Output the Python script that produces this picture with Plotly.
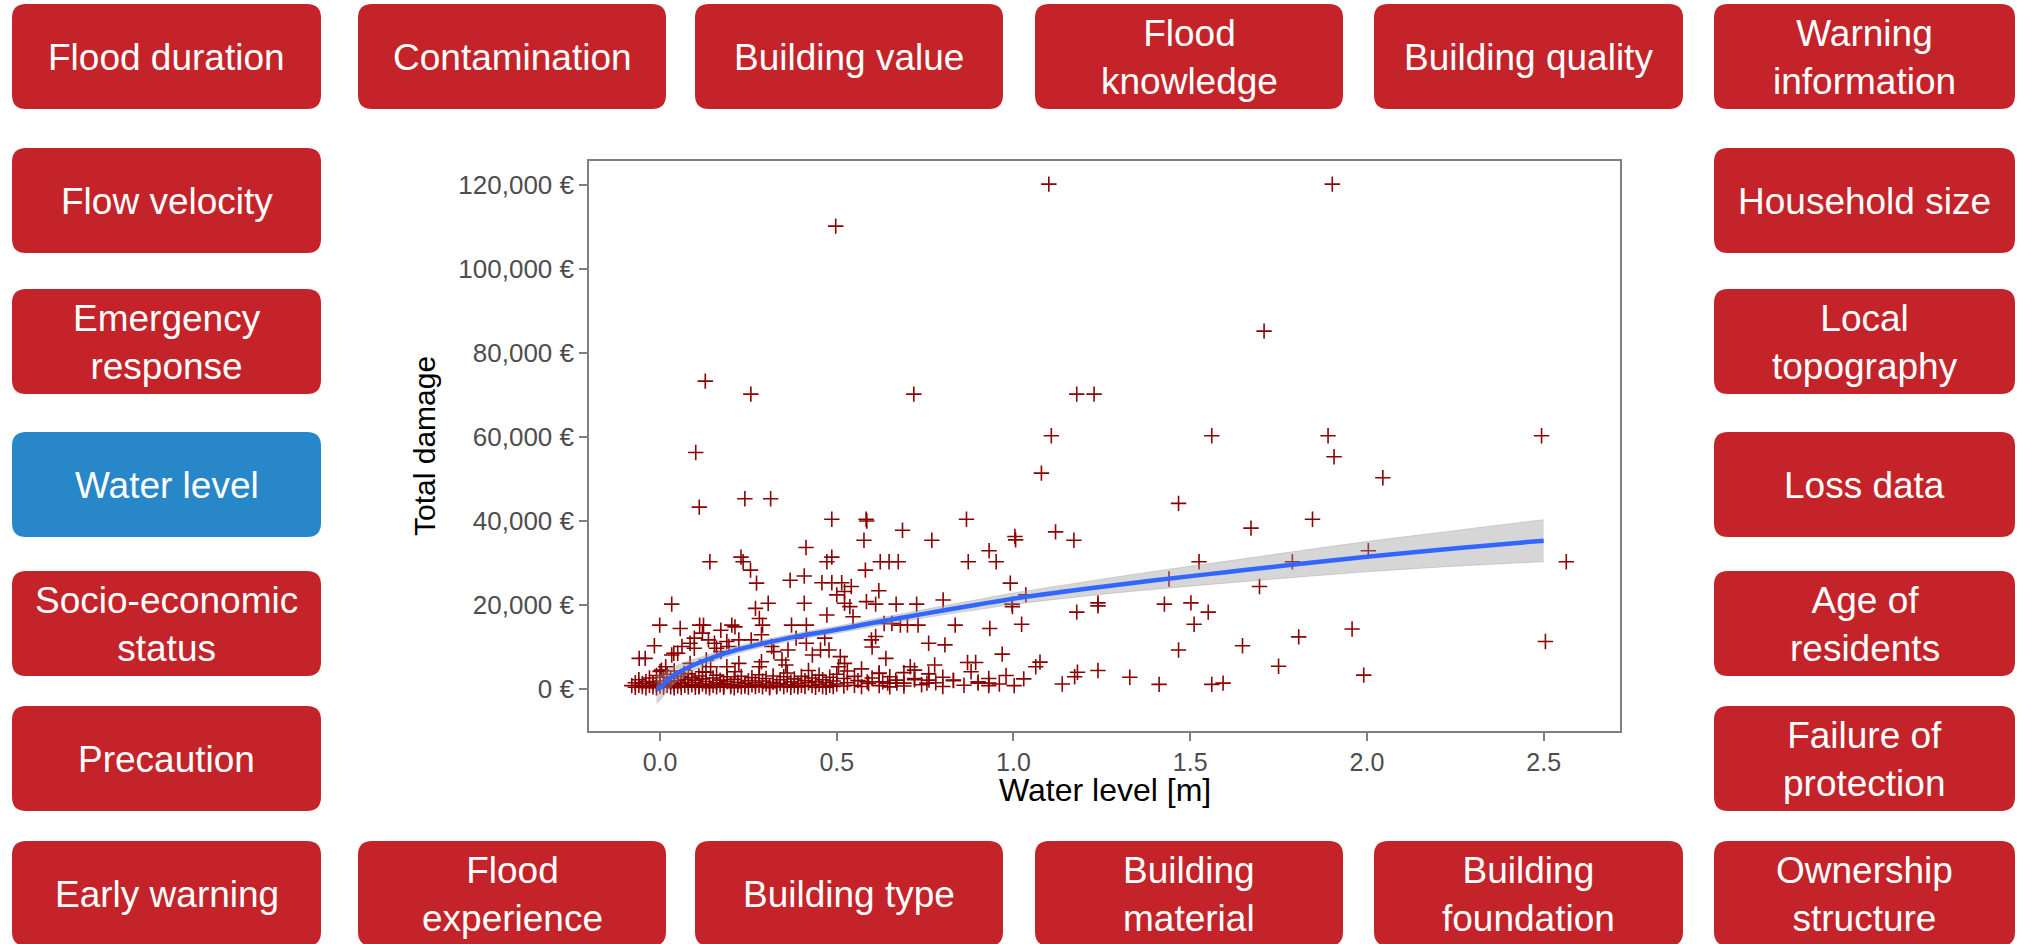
import plotly.graph_objects as go

# ---------------- data ----------------
# scattered observations: water level [m] and total damage [EUR]
water_level = [
    1.100, 1.902, 0.497, 1.709,
    0.128, 0.257, 0.718, 1.179, 1.228,
    0.101, 1.107, 1.561, 1.890, 2.494,
    1.907, 1.079, 2.045, 0.111, 0.240, 0.313,
    1.467, 0.486, 0.583, 0.585, 0.867, 1.846,
    0.686, 1.672, 1.119, 1.004, 1.006,
    0.577, 0.769, 1.171, 0.413, 0.931, 2.004,
    0.141, 0.229, 0.235, 0.472, 0.486, 0.623, 0.648, 0.674, 0.872, 0.951, 1.525, 1.789, 2.564,
    0.256, 0.581, 0.273, 0.368, 0.408, 0.458, 0.486, 0.514, 0.541, 0.500, 0.522, 0.619, 0.991, 1.035, 1.440, 1.696,
    0.584, 0.522, 0.610, 0.668, 0.726, 0.801, 0.997, 0.306, 0.270, 0.408, 0.033, 0.996, 1.239, 1.239, 1.427, 1.502, 1.551, 1.179,
    0.472, 0.537, 0.546, 0.372, 0.414, 0.290, 0.281, 0.203, 0.172, 0.123, 0.112, 0.057, -0.001, 0.634, 0.656, 0.680, 0.700,
    0.730, 0.835, 0.933, 1.023, 1.511, 1.958, 1.807, 2.505,
    0.760, 0.806, 0.968, 1.467, 1.648, 1.750, 1.075, 1.063, 0.870, 0.893, 0.777, 0.708, 0.720, 0.639, 0.598, 0.610, 0.600,
    0.510, 0.505, 0.522, 0.478, 0.466, 0.431, 0.454, 0.414, 0.385, 0.362, 0.356, 0.345, 0.316, 0.322, 0.287, 0.281,
    0.258, 0.287, 0.212, 0.223, 0.195, 0.189, 0.154, 0.160, 0.172, 0.120, 0.137, 0.097, 0.085, 0.097, 0.062, 0.039,
    0.033, 0.050, -0.016, -0.059, -0.042, 0.016, 0.004, 0.068, 0.085, 0.131, 0.143, 0.120, 0.189, 0.212, 0.223,
    0.979, 1.029, 1.002, 1.181, 1.173, 1.138, 1.239, 1.329, 1.412, 1.561, 1.593, 1.991,
    0.586, 0.620, 0.644, 0.667, 0.690, 0.720, 0.755, 0.761, 0.830, 0.900, 0.930,
    -0.08, -0.07, -0.07, -0.06, -0.06, -0.05, -0.05, -0.04, -0.04, -0.03, -0.03, -0.02, -0.02,
    -0.01, -0.01, -0.01, 0.00, 0.00, 0.00, 0.01, 0.01, 0.01, 0.02, 0.02, 0.03, 0.03, 0.03,
    0.04, 0.04, 0.04, 0.05, 0.05, 0.06, 0.06, 0.06, 0.07, 0.07, 0.08, 0.08, 0.08, 0.09, 0.09,
    0.10, 0.10, 0.10, 0.11, 0.11, 0.11, 0.12, 0.12, 0.13, 0.13, 0.13, 0.14, 0.14, 0.15, 0.15,
    0.16, 0.16, 0.16, 0.17, 0.17, 0.18, 0.18, 0.18, 0.19, 0.19, 0.20, 0.20, 0.21, 0.21, 0.22, 0.22,
    0.23, 0.23, 0.24, 0.24, 0.25, 0.25, 0.26, 0.26, 0.27, 0.27, 0.28, 0.28, 0.29, 0.29, 0.30, 0.30,
    0.31, 0.31, 0.32, 0.32, 0.33, 0.33, 0.34, 0.34, 0.35, 0.35, 0.36, 0.36, 0.37, 0.37, 0.38, 0.38,
    0.39, 0.39, 0.40, 0.40, 0.41, 0.41, 0.42, 0.42, 0.43, 0.43, 0.44, 0.44, 0.45, 0.45, 0.46, 0.46,
    0.47, 0.47, 0.48, 0.48, 0.49, 0.49, 0.50, 0.50, 0.52, 0.52, 0.53, 0.53, 0.55, 0.55, 0.56,
    0.57, 0.57, 0.59, 0.60, 0.62, 0.62, 0.63, 0.65, 0.65, 0.67, 0.69, 0.69, 0.72, 0.74, 0.76,
    0.78, 0.80, 0.80, 0.83, 0.86, 0.88, 0.90, 0.93, 0.93, 0.96,
]
total_damage = [
    120200, 120200, 110200, 85200,
    73300, 70200, 70200, 70200, 70200,
    56300, 60300, 60300, 60300, 60300,
    55300, 51400, 50300, 43300, 45300, 45300,
    44200, 40400, 40400, 40000, 40400, 40400,
    37800, 38300, 37400, 36300, 35500,
    35400, 35400, 35400, 33700, 32900, 32900,
    30300, 31400, 30300, 30300, 31400, 30300, 30300, 30300, 30300, 30300, 30300, 30300, 30300,
    28300, 28300, 25200, 25900, 26900, 25300, 25300, 25300, 24400, 22400, 23200, 23400, 25200, 22400, 26200, 24400,
    20800, 20400, 20200, 20200, 20200, 21200, 19600, 20400, 19200, 20400, 20200, 20200, 20500, 19800, 20200, 20500, 18300, 18300,
    17600, 19600, 17200, 15200, 15200, 15200, 16800, 15200, 14000, 15200, 15200, 14400, 15200, 15600, 15600, 15200, 15200,
    15200, 15200, 14400, 15400, 15400, 14300, 12400, 11300,
    10900, 10500, 8300, 9300, 10300, 5400, 6400, 5300, 6300, 6300, 5700, 5300, 4500, 7300, 11700, 12500, 10000,
    7700, 5300, 6100, 9300, 12100, 8100, 9300, 10900, 12100, 9300, 5700, 6900, 10100, 8900, 6500, 5300,
    11700, 12900, 14800, 11700, 10100, 11300, 10900, 9700, 8900, 13300, 11700, 12100, 10900, 9700, 10100, 8500,
    8100, 8500, 10300, 7300, 7300, 5300, 4500, 3700, 6100, 6900, 5300, 4100, 5300, 4100, 6100,
    3200, 2400, 800, 4000, 2900, 1200, 4400, 2800, 1100, 1100, 1400, 3300,
    1700, 3700, 1400, 2100, 1400, 2500, 1400, 2100, 2100, 1400, 1400,
    800, 1500, 400, 900, 2200, 600, 1300, 1800, 300, 900, 2600, 500, 1500,
    1100, 3200, 300, 700, 1900, 4200, 400, 1300, 2800, 900, 3500, 500, 1700, 2600,
    1100, 300, 4300, 700, 2000, 1400, 400, 3000, 900, 2300, 500, 1600, 3600, 1000, 2700,
    400, 1500, 2100, 800, 3100, 500, 1200, 2400, 600, 1800, 4000, 300, 1100, 900, 2600,
    500, 1500, 3300, 1000, 2100, 400, 1300, 700, 1800, 2900, 600, 1100, 300, 2300, 900, 1600,
    500, 3000, 1300, 700, 2000, 400, 1000, 2700, 600, 1500, 3400, 900, 500, 1900, 1200, 2500,
    700, 300, 1600, 3100, 900, 500, 2200, 1300, 600, 2900, 1000, 3800, 400, 1700, 2400, 800,
    1300, 500, 3000, 900, 600, 2000, 1500, 4400, 800, 2600, 400, 1800, 1100, 3300, 600, 2200,
    1500, 400, 900, 2800, 1900, 600, 3500, 1200, 700, 2500, 4300, 1500, 900, 3000, 2000,
    600, 4800, 1300, 2600, 800, 3800, 1700, 500, 2900, 1400, 3900, 700, 2200, 1000, 3600,
    1500, 600, 2800, 2000, 900, 4100, 1700, 800, 2500, 1200,
]

# smoothed trend with its confidence band
smooth_x = [-0.01, 0.0, 0.02, 0.05, 0.1, 0.15, 0.2, 0.3, 0.4, 0.5, 0.6, 0.7, 0.8, 0.9, 1.0,
            1.2, 1.4, 1.6, 1.8, 2.0, 2.2, 2.4, 2.5]
smooth_y = [0, 300, 2000, 3800, 5900, 7500, 8900, 11000, 12700, 14100, 15700, 17200, 18700,
            20100, 21500, 23800, 25900, 27800, 29700, 31500, 33100, 34600, 35300]
band_lo = [-3400, -2700, -500, 1900, 4600, 6500, 8000, 10200, 11900, 13250, 14800, 16250, 17650,
           18900, 20150, 22100, 23750, 25200, 26600, 27900, 29000, 29900, 30300]
band_hi = [3400, 3300, 4500, 5700, 7200, 8500, 9800, 11800, 13500, 14950, 16600, 18150, 19750,
           21300, 22850, 25500, 28050, 30400, 32800, 35100, 37200, 39300, 40300]

y_ticks = [0, 20000, 40000, 60000, 80000, 100000, 120000]
y_tick_labels = ["0 €", "20,000 €", "40,000 €", "60,000 €", "80,000 €", "100,000 €", "120,000 €"]
x_ticks = [0.0, 0.5, 1.0, 1.5, 2.0, 2.5]
x_tick_labels = ["0.0", "0.5", "1.0", "1.5", "2.0", "2.5"]

# factor boxes around the panel
top_labels = ["Flood duration", "Contamination", "Building value", "Flood<br>knowledge",
              "Building quality", "Warning<br>information"]
left_labels = ["Flow velocity", "Emergency<br>response", "Water level",
               "Socio-economic<br>status", "Precaution"]
right_labels = ["Household size", "Local<br>topography", "Loss data",
                "Age of<br>residents", "Failure of<br>protection"]
bottom_labels = ["Early warning", "Flood<br>experience", "Building type", "Building<br>material",
                 "Building<br>foundation", "Ownership<br>structure"]
highlight = "Water level"

# ---------------- geometry (pixels) ----------------
FIG_W, FIG_H = 2017, 944
PL, PR, PT, PB = 589, 1620, 161, 731          # plot panel edges
col_left = [12, 358, 695, 1035, 1374, 1714]
col_width = [309, 308, 308, 308, 309, 301]
row_top = [4, 148, 289, 432, 571, 706, 841]
BOX_H = 105
RADIUS = 14

RED = "#C5232A"
BLUE = "#2787C9"
FONT = "Liberation Sans, Arial"


def px(x):
    return (x - PL) / (PR - PL)


def py(y):
    return (PB - y) / (PB - PT)


def rounded_box(x0, y0, w, h, r):
    x1, y1 = x0 + w, y0 + h
    pts = [
        ("M", [(x0 + r, y0)]), ("L", [(x1 - r, y0)]), ("Q", [(x1, y0), (x1, y0 + r)]),
        ("L", [(x1, y1 - r)]), ("Q", [(x1, y1), (x1 - r, y1)]), ("L", [(x0 + r, y1)]),
        ("Q", [(x0, y1), (x0, y1 - r)]), ("L", [(x0, y0 + r)]), ("Q", [(x0, y0), (x0 + r, y0)]),
    ]
    parts = []
    for cmd, coords in pts:
        parts.append(cmd + " ".join(f"{px(a):.5f},{py(b):.5f}" for a, b in coords))
    return " ".join(parts) + " Z"


boxes = []
for i, lab in enumerate(top_labels):
    boxes.append((lab, i, 0))
for j, lab in enumerate(left_labels):
    boxes.append((lab, 0, j + 1))
for j, lab in enumerate(right_labels):
    boxes.append((lab, 5, j + 1))
for i, lab in enumerate(bottom_labels):
    boxes.append((lab, i, 6))

shapes = []
annotations = []
for lab, c, r in boxes:
    x0, y0, w = col_left[c], row_top[r], col_width[c]
    color = BLUE if lab == highlight else RED
    shapes.append(dict(type="path", xref="paper", yref="paper",
                       path=rounded_box(x0, y0, w, BOX_H, RADIUS),
                       fillcolor=color, line=dict(width=0), layer="above"))
    annotations.append(dict(text=lab, xref="paper", yref="paper",
                            x=px(x0 + w / 2), y=py(y0 + BOX_H / 2 + 1),
                            xanchor="center", yanchor="middle", showarrow=False,
                            font=dict(family=FONT, size=37, color="white")))

# axis titles
annotations.append(dict(text="Water level [m]", xref="paper", yref="paper",
                        x=0.5, y=py(790), xanchor="center", yanchor="middle", showarrow=False,
                        font=dict(family=FONT, size=32, color="black")))
annotations.append(dict(text="Total damage", xref="paper", yref="paper",
                        x=px(424), y=py(446), xanchor="center", yanchor="middle", showarrow=False,
                        textangle=-90,
                        font=dict(family=FONT, size=30, color="black")))

# ---------------- figure ----------------
fig = go.Figure()
fig.add_trace(go.Scatter(
    x=water_level, y=total_damage, mode="markers",
    marker=dict(symbol="cross-thin", size=11, color="#8B0000",
                line=dict(color="#8B0000", width=1.6)),
    hoverinfo="skip", showlegend=False))
fig.add_trace(go.Scatter(
    x=smooth_x, y=band_lo, mode="lines",
    line=dict(width=0.6, color="rgba(150,150,150,0.6)", shape="spline"),
    hoverinfo="skip", showlegend=False))
fig.add_trace(go.Scatter(
    x=smooth_x, y=band_hi, mode="lines",
    line=dict(width=0.6, color="rgba(150,150,150,0.6)", shape="spline"),
    fill="tonexty", fillcolor="rgba(153,153,153,0.4)", hoverinfo="skip", showlegend=False))
fig.add_trace(go.Scatter(
    x=smooth_x, y=smooth_y, mode="lines", line=dict(color="#3366FF", width=4.5, shape="spline"),
    hoverinfo="skip", showlegend=False))

axis_common = dict(
    showgrid=False, zeroline=False, showline=True, mirror=True,
    linecolor="#7F7F7F", linewidth=1.6,
    ticks="outside", ticklen=8, tickwidth=1.5, tickcolor="#7F7F7F",
)
fig.update_layout(
    width=FIG_W, height=FIG_H,
    margin=dict(l=PL, r=FIG_W - PR, t=PT, b=FIG_H - PB, pad=0),
    paper_bgcolor="white", plot_bgcolor="white",
    xaxis=dict(range=[-0.201, 2.716], tickvals=x_ticks, ticktext=x_tick_labels,
               tickfont=dict(family=FONT, size=25, color="#4D4D4D"), **axis_common),
    yaxis=dict(range=[-10000, 125700], tickvals=y_ticks, ticktext=y_tick_labels,
               tickfont=dict(family=FONT, size=26, color="#4D4D4D"), **axis_common),
    shapes=shapes, annotations=annotations,
)

fig.write_html("out.html")
